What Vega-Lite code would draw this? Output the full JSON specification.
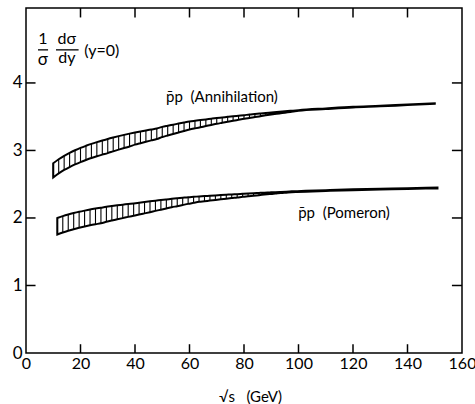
{
  "$schema": "https://vega.github.io/schema/vega-lite/v6.json",
  "width": 436,
  "height": 345,
  "autosize": "none",
  "padding": {"left": 26, "top": 8, "right": 13, "bottom": 51},
  "background": "white",
  "config": {
    "view": {"stroke": "black", "strokeWidth": 1.5},
    "font": "Lato",
    "text": {"font": "Lato", "color": "black"},
    "rule": {"color": "black", "strokeWidth": 1.5},
    "axis": {
      "grid": false,
      "domain": false,
      "ticks": false,
      "labelColor": "black",
      "labelFont": "Lato",
      "labelFontSize": 17,
      "labelFlush": false,
      "labelOverlap": false,
      "titleFont": "Lato",
      "titleFontWeight": "normal",
      "titleColor": "black"
    }
  },
  "datasets": {
    "one": [{}],
    "bands": [
      {"band": "Annihilation", "x": 10, "lo": 2.600, "hi": 2.810},
      {"band": "Annihilation", "x": 12, "lo": 2.660, "hi": 2.870},
      {"band": "Annihilation", "x": 14, "lo": 2.711, "hi": 2.921},
      {"band": "Annihilation", "x": 16, "lo": 2.754, "hi": 2.964},
      {"band": "Annihilation", "x": 18, "lo": 2.793, "hi": 3.003},
      {"band": "Annihilation", "x": 20, "lo": 2.828, "hi": 3.038},
      {"band": "Annihilation", "x": 22, "lo": 2.859, "hi": 3.069},
      {"band": "Annihilation", "x": 24, "lo": 2.888, "hi": 3.098},
      {"band": "Annihilation", "x": 26, "lo": 2.914, "hi": 3.124},
      {"band": "Annihilation", "x": 28, "lo": 2.938, "hi": 3.148},
      {"band": "Annihilation", "x": 30, "lo": 2.961, "hi": 3.171},
      {"band": "Annihilation", "x": 32, "lo": 2.987, "hi": 3.192},
      {"band": "Annihilation", "x": 34, "lo": 3.012, "hi": 3.212},
      {"band": "Annihilation", "x": 36, "lo": 3.036, "hi": 3.231},
      {"band": "Annihilation", "x": 38, "lo": 3.059, "hi": 3.249},
      {"band": "Annihilation", "x": 40, "lo": 3.086, "hi": 3.266},
      {"band": "Annihilation", "x": 42, "lo": 3.108, "hi": 3.282},
      {"band": "Annihilation", "x": 44, "lo": 3.129, "hi": 3.297},
      {"band": "Annihilation", "x": 46, "lo": 3.149, "hi": 3.311},
      {"band": "Annihilation", "x": 48, "lo": 3.169, "hi": 3.325},
      {"band": "Annihilation", "x": 50, "lo": 3.199, "hi": 3.349},
      {"band": "Annihilation", "x": 52, "lo": 3.222, "hi": 3.366},
      {"band": "Annihilation", "x": 54, "lo": 3.244, "hi": 3.382},
      {"band": "Annihilation", "x": 56, "lo": 3.266, "hi": 3.398},
      {"band": "Annihilation", "x": 58, "lo": 3.288, "hi": 3.414},
      {"band": "Annihilation", "x": 60, "lo": 3.309, "hi": 3.429},
      {"band": "Annihilation", "x": 62, "lo": 3.327, "hi": 3.440},
      {"band": "Annihilation", "x": 64, "lo": 3.344, "hi": 3.450},
      {"band": "Annihilation", "x": 66, "lo": 3.361, "hi": 3.460},
      {"band": "Annihilation", "x": 68, "lo": 3.378, "hi": 3.470},
      {"band": "Annihilation", "x": 70, "lo": 3.395, "hi": 3.480},
      {"band": "Annihilation", "x": 72, "lo": 3.410, "hi": 3.489},
      {"band": "Annihilation", "x": 74, "lo": 3.425, "hi": 3.498},
      {"band": "Annihilation", "x": 76, "lo": 3.440, "hi": 3.507},
      {"band": "Annihilation", "x": 78, "lo": 3.454, "hi": 3.515},
      {"band": "Annihilation", "x": 80, "lo": 3.468, "hi": 3.523},
      {"band": "Annihilation", "x": 82, "lo": 3.482, "hi": 3.532},
      {"band": "Annihilation", "x": 84, "lo": 3.494, "hi": 3.539},
      {"band": "Annihilation", "x": 86, "lo": 3.507, "hi": 3.547},
      {"band": "Annihilation", "x": 88, "lo": 3.520, "hi": 3.555},
      {"band": "Annihilation", "x": 90, "lo": 3.532, "hi": 3.562},
      {"band": "Annihilation", "x": 92, "lo": 3.543, "hi": 3.569},
      {"band": "Annihilation", "x": 94, "lo": 3.554, "hi": 3.576},
      {"band": "Annihilation", "x": 96, "lo": 3.565, "hi": 3.583},
      {"band": "Annihilation", "x": 98, "lo": 3.576, "hi": 3.590},
      {"band": "Annihilation", "x": 100, "lo": 3.587, "hi": 3.597},
      {"band": "Annihilation", "x": 110, "lo": 3.613, "hi": 3.623},
      {"band": "Annihilation", "x": 120, "lo": 3.637, "hi": 3.647},
      {"band": "Annihilation", "x": 130, "lo": 3.653, "hi": 3.663},
      {"band": "Annihilation", "x": 140, "lo": 3.672, "hi": 3.682},
      {"band": "Annihilation", "x": 150, "lo": 3.690, "hi": 3.700},
      {"band": "Pomeron", "x": 11.5, "lo": 1.755, "hi": 2.000},
      {"band": "Pomeron", "x": 13.5, "lo": 1.785, "hi": 2.028},
      {"band": "Pomeron", "x": 15.5, "lo": 1.811, "hi": 2.052},
      {"band": "Pomeron", "x": 17.5, "lo": 1.834, "hi": 2.073},
      {"band": "Pomeron", "x": 19.5, "lo": 1.854, "hi": 2.092},
      {"band": "Pomeron", "x": 21.5, "lo": 1.873, "hi": 2.109},
      {"band": "Pomeron", "x": 23.5, "lo": 1.891, "hi": 2.125},
      {"band": "Pomeron", "x": 25.5, "lo": 1.907, "hi": 2.139},
      {"band": "Pomeron", "x": 27.5, "lo": 1.922, "hi": 2.152},
      {"band": "Pomeron", "x": 29.5, "lo": 1.943, "hi": 2.165},
      {"band": "Pomeron", "x": 31.5, "lo": 1.962, "hi": 2.176},
      {"band": "Pomeron", "x": 33.5, "lo": 1.980, "hi": 2.187},
      {"band": "Pomeron", "x": 35.5, "lo": 1.998, "hi": 2.197},
      {"band": "Pomeron", "x": 37.5, "lo": 2.016, "hi": 2.207},
      {"band": "Pomeron", "x": 39.5, "lo": 2.033, "hi": 2.216},
      {"band": "Pomeron", "x": 41.5, "lo": 2.050, "hi": 2.226},
      {"band": "Pomeron", "x": 43.5, "lo": 2.068, "hi": 2.236},
      {"band": "Pomeron", "x": 45.5, "lo": 2.086, "hi": 2.246},
      {"band": "Pomeron", "x": 47.5, "lo": 2.105, "hi": 2.256},
      {"band": "Pomeron", "x": 49.5, "lo": 2.123, "hi": 2.265},
      {"band": "Pomeron", "x": 51.5, "lo": 2.141, "hi": 2.274},
      {"band": "Pomeron", "x": 53.5, "lo": 2.159, "hi": 2.283},
      {"band": "Pomeron", "x": 55.5, "lo": 2.175, "hi": 2.291},
      {"band": "Pomeron", "x": 57.5, "lo": 2.192, "hi": 2.299},
      {"band": "Pomeron", "x": 59.5, "lo": 2.209, "hi": 2.307},
      {"band": "Pomeron", "x": 61.5, "lo": 2.224, "hi": 2.313},
      {"band": "Pomeron", "x": 63.5, "lo": 2.239, "hi": 2.319},
      {"band": "Pomeron", "x": 65.5, "lo": 2.248, "hi": 2.324},
      {"band": "Pomeron", "x": 67.5, "lo": 2.258, "hi": 2.329},
      {"band": "Pomeron", "x": 69.5, "lo": 2.267, "hi": 2.334},
      {"band": "Pomeron", "x": 71.5, "lo": 2.276, "hi": 2.339},
      {"band": "Pomeron", "x": 73.5, "lo": 2.286, "hi": 2.344},
      {"band": "Pomeron", "x": 75.5, "lo": 2.295, "hi": 2.349},
      {"band": "Pomeron", "x": 77.5, "lo": 2.303, "hi": 2.353},
      {"band": "Pomeron", "x": 79.5, "lo": 2.313, "hi": 2.358},
      {"band": "Pomeron", "x": 81.5, "lo": 2.321, "hi": 2.362},
      {"band": "Pomeron", "x": 83.5, "lo": 2.329, "hi": 2.366},
      {"band": "Pomeron", "x": 85.5, "lo": 2.338, "hi": 2.371},
      {"band": "Pomeron", "x": 87.5, "lo": 2.346, "hi": 2.375},
      {"band": "Pomeron", "x": 89.5, "lo": 2.354, "hi": 2.379},
      {"band": "Pomeron", "x": 91.5, "lo": 2.361, "hi": 2.382},
      {"band": "Pomeron", "x": 93.5, "lo": 2.369, "hi": 2.386},
      {"band": "Pomeron", "x": 95.5, "lo": 2.375, "hi": 2.390},
      {"band": "Pomeron", "x": 97.5, "lo": 2.381, "hi": 2.394},
      {"band": "Pomeron", "x": 99.5, "lo": 2.385, "hi": 2.397},
      {"band": "Pomeron", "x": 110, "lo": 2.400, "hi": 2.412},
      {"band": "Pomeron", "x": 120, "lo": 2.412, "hi": 2.424},
      {"band": "Pomeron", "x": 130, "lo": 2.421, "hi": 2.433},
      {"band": "Pomeron", "x": 140, "lo": 2.430, "hi": 2.442},
      {"band": "Pomeron", "x": 151, "lo": 2.438, "hi": 2.450}
    ]
  },
  "layer": [
    {
      "data": {"name": "bands"},
      "mark": {"type": "rule", "color": "black", "strokeWidth": 1.1},
      "encoding": {
        "x": {"field": "x", "type": "quantitative", "scale": {"domain": [0, 160], "nice": false, "zero": false},
          "axis": {"orient": "bottom", "values": [0, 20, 40, 60, 80, 100, 120, 140, 160], "format": "d", "labelPadding": 2, "labelFontSize": 16, "title": "√s\u00a0\u00a0 (GeV)", "titleFontSize": 15, "titlePadding": 18, "titleX": 224}},
        "y": {"field": "lo", "type": "quantitative", "scale": {"domain": [0, 5.11], "nice": false, "zero": false},
          "axis": {"orient": "left", "values": [0, 1, 2, 3, 4], "format": "d", "labelPadding": 4, "title": null}},
        "y2": {"field": "hi"}
      }
    },
    {
      "data": {"name": "bands"},
      "mark": {"type": "area", "fillOpacity": 0, "stroke": "black", "strokeWidth": 2, "interpolate": "monotone"},
      "encoding": {
        "x": {"field": "x", "type": "quantitative"},
        "y": {"field": "lo", "type": "quantitative"},
        "y2": {"field": "hi"},
        "detail": {"field": "band"}
      }
    },
    {"data": {"name": "one"}, "mark": "rule", "encoding": {"x": {"datum": 20, "type": "quantitative"}, "y": {"datum": 0, "type": "quantitative"}, "y2": {"datum": 0.13}}},
    {"data": {"name": "one"}, "mark": "rule", "encoding": {"x": {"datum": 40, "type": "quantitative"}, "y": {"datum": 0, "type": "quantitative"}, "y2": {"datum": 0.13}}},
    {"data": {"name": "one"}, "mark": "rule", "encoding": {"x": {"datum": 60, "type": "quantitative"}, "y": {"datum": 0, "type": "quantitative"}, "y2": {"datum": 0.13}}},
    {"data": {"name": "one"}, "mark": "rule", "encoding": {"x": {"datum": 80, "type": "quantitative"}, "y": {"datum": 0, "type": "quantitative"}, "y2": {"datum": 0.13}}},
    {"data": {"name": "one"}, "mark": "rule", "encoding": {"x": {"datum": 100, "type": "quantitative"}, "y": {"datum": 0, "type": "quantitative"}, "y2": {"datum": 0.13}}},
    {"data": {"name": "one"}, "mark": "rule", "encoding": {"x": {"datum": 120, "type": "quantitative"}, "y": {"datum": 0, "type": "quantitative"}, "y2": {"datum": 0.13}}},
    {"data": {"name": "one"}, "mark": "rule", "encoding": {"x": {"datum": 140, "type": "quantitative"}, "y": {"datum": 0, "type": "quantitative"}, "y2": {"datum": 0.13}}},
    {"data": {"name": "one"}, "mark": "rule", "encoding": {"x": {"datum": 20, "type": "quantitative"}, "y": {"datum": 5.11, "type": "quantitative"}, "y2": {"datum": 4.97}}},
    {"data": {"name": "one"}, "mark": "rule", "encoding": {"x": {"datum": 40, "type": "quantitative"}, "y": {"datum": 5.11, "type": "quantitative"}, "y2": {"datum": 4.97}}},
    {"data": {"name": "one"}, "mark": "rule", "encoding": {"x": {"datum": 60, "type": "quantitative"}, "y": {"datum": 5.11, "type": "quantitative"}, "y2": {"datum": 4.97}}},
    {"data": {"name": "one"}, "mark": "rule", "encoding": {"x": {"datum": 80, "type": "quantitative"}, "y": {"datum": 5.11, "type": "quantitative"}, "y2": {"datum": 4.97}}},
    {"data": {"name": "one"}, "mark": "rule", "encoding": {"x": {"datum": 100, "type": "quantitative"}, "y": {"datum": 5.11, "type": "quantitative"}, "y2": {"datum": 4.97}}},
    {"data": {"name": "one"}, "mark": "rule", "encoding": {"x": {"datum": 120, "type": "quantitative"}, "y": {"datum": 5.11, "type": "quantitative"}, "y2": {"datum": 4.97}}},
    {"data": {"name": "one"}, "mark": "rule", "encoding": {"x": {"datum": 140, "type": "quantitative"}, "y": {"datum": 5.11, "type": "quantitative"}, "y2": {"datum": 4.97}}},
    {"data": {"name": "one"}, "mark": "rule", "encoding": {"y": {"datum": 1, "type": "quantitative"}, "x": {"datum": 0, "type": "quantitative"}, "x2": {"datum": 3.5}}},
    {"data": {"name": "one"}, "mark": "rule", "encoding": {"y": {"datum": 2, "type": "quantitative"}, "x": {"datum": 0, "type": "quantitative"}, "x2": {"datum": 3.5}}},
    {"data": {"name": "one"}, "mark": "rule", "encoding": {"y": {"datum": 3, "type": "quantitative"}, "x": {"datum": 0, "type": "quantitative"}, "x2": {"datum": 3.5}}},
    {"data": {"name": "one"}, "mark": "rule", "encoding": {"y": {"datum": 4, "type": "quantitative"}, "x": {"datum": 0, "type": "quantitative"}, "x2": {"datum": 3.5}}},
    {"data": {"name": "one"}, "mark": "rule", "encoding": {"y": {"datum": 1, "type": "quantitative"}, "x": {"datum": 160, "type": "quantitative"}, "x2": {"datum": 156.3}}},
    {"data": {"name": "one"}, "mark": "rule", "encoding": {"y": {"datum": 2, "type": "quantitative"}, "x": {"datum": 160, "type": "quantitative"}, "x2": {"datum": 156.3}}},
    {"data": {"name": "one"}, "mark": "rule", "encoding": {"y": {"datum": 3, "type": "quantitative"}, "x": {"datum": 160, "type": "quantitative"}, "x2": {"datum": 156.3}}},
    {"data": {"name": "one"}, "mark": "rule", "encoding": {"y": {"datum": 4, "type": "quantitative"}, "x": {"datum": 160, "type": "quantitative"}, "x2": {"datum": 156.3}}},
    {
      "data": {"name": "one"},
      "mark": {"type": "text", "fontSize": 15, "align": "center", "baseline": "alphabetic"},
      "encoding": {"x": {"datum": 71.9, "type": "quantitative"}, "y": {"datum": 3.72, "type": "quantitative"}, "text": {"value": "p̄p\u00a0 (Annihilation)"}}
    },
    {
      "data": {"name": "one"},
      "mark": {"type": "text", "fontSize": 15, "align": "center", "baseline": "alphabetic"},
      "encoding": {"x": {"datum": 116.7, "type": "quantitative"}, "y": {"datum": 2.0, "type": "quantitative"}, "text": {"value": "p̄p\u00a0 (Pomeron)"}}
    },
    {
      "data": {"name": "one"},
      "mark": {"type": "text", "fontSize": 16, "align": "center", "baseline": "alphabetic"},
      "encoding": {"x": {"datum": 6.2, "type": "quantitative"}, "y": {"datum": 4.58, "type": "quantitative"}, "text": {"value": "1"}}
    },
    {
      "data": {"name": "one"},
      "mark": {"type": "text", "fontSize": 17, "align": "center", "baseline": "alphabetic"},
      "encoding": {"x": {"datum": 6.2, "type": "quantitative"}, "y": {"datum": 4.27, "type": "quantitative"}, "text": {"value": "σ"}}
    },
    {
      "data": {"name": "one"},
      "mark": {"type": "text", "fontSize": 16, "align": "center", "baseline": "alphabetic"},
      "encoding": {"x": {"datum": 15.0, "type": "quantitative"}, "y": {"datum": 4.58, "type": "quantitative"}, "text": {"value": "dσ"}}
    },
    {
      "data": {"name": "one"},
      "mark": {"type": "text", "fontSize": 16, "align": "center", "baseline": "alphabetic"},
      "encoding": {"x": {"datum": 15.0, "type": "quantitative"}, "y": {"datum": 4.3, "type": "quantitative"}, "text": {"value": "dy"}}
    },
    {
      "data": {"name": "one"},
      "mark": {"type": "text", "fontSize": 16, "align": "center", "baseline": "middle"},
      "encoding": {"x": {"datum": 27.8, "type": "quantitative"}, "y": {"datum": 4.47, "type": "quantitative"}, "text": {"value": "(y=0)"}}
    },
    {
      "data": {"name": "one"},
      "mark": {"type": "rule", "color": "black", "strokeWidth": 1.3},
      "encoding": {"x": {"datum": 4.4, "type": "quantitative"}, "x2": {"datum": 8.1}, "y": {"datum": 4.49, "type": "quantitative"}}
    },
    {
      "data": {"name": "one"},
      "mark": {"type": "rule", "color": "black", "strokeWidth": 1.3},
      "encoding": {"x": {"datum": 11.0, "type": "quantitative"}, "x2": {"datum": 19.3}, "y": {"datum": 4.49, "type": "quantitative"}}
    }
  ]
}
